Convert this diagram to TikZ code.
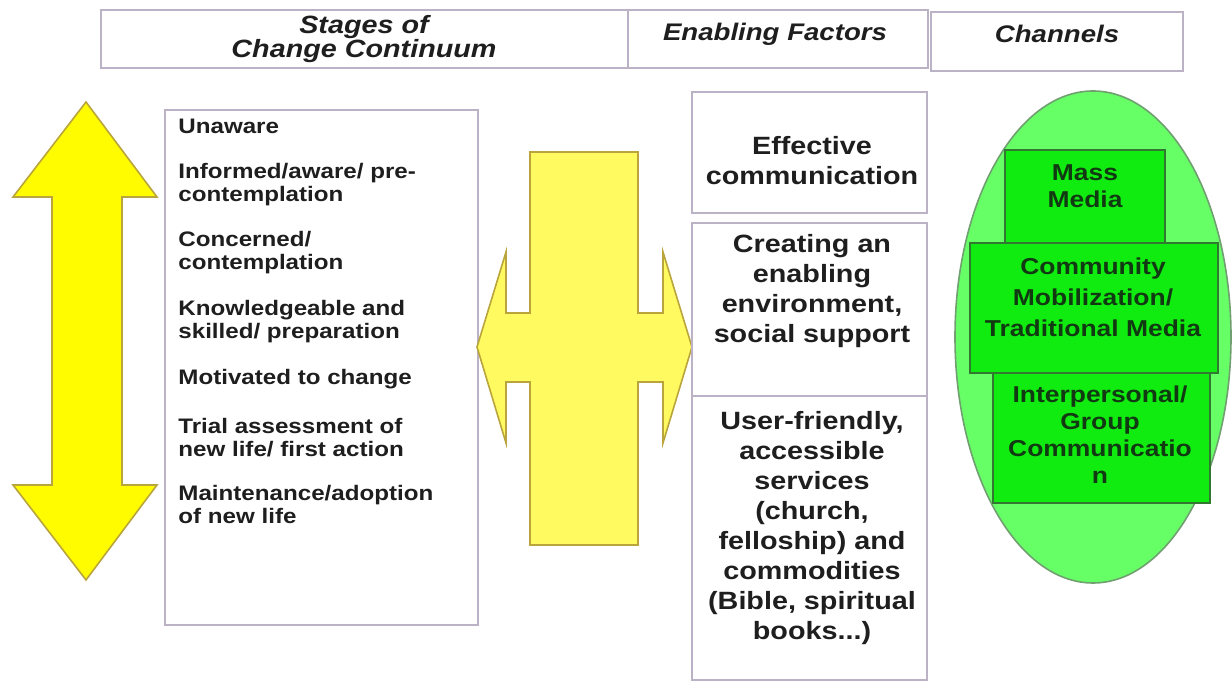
\documentclass[tikz,border=0pt]{standalone}
\usepackage{fontspec}
\setmainfont[FakeStretch=1.15]{Liberation Sans}
\definecolor{framegray}{RGB}{188,178,198}
\definecolor{bigyellow}{RGB}{255,252,0}
\definecolor{paleyellow}{RGB}{255,250,95}
\definecolor{yellowedge}{RGB}{185,165,60}
\definecolor{ovalgreen}{RGB}{102,255,102}
\definecolor{boxgreen}{RGB}{16,236,16}
\definecolor{greenedge}{RGB}{50,120,50}
\definecolor{darkink}{RGB}{30,30,30}
\definecolor{greenink}{RGB}{18,58,18}
\begin{document}
\begin{tikzpicture}[x=0.5pt, y=-0.5pt,
    frame/.style={draw=framegray, line width=1pt},
    headtext/.style={font=\fontsize{12.5}{14}\selectfont\bfseries\itshape, text=darkink, align=center},
    stagetext/.style={font=\fontsize{10.5}{11.5}\selectfont\bfseries, text=darkink, align=left, anchor=west, inner sep=0pt},
    factortext/.style={font=\fontsize{12.5}{15}\selectfont\bfseries, text=darkink, align=center},
    channelbox/.style={draw=greenedge, fill=boxgreen, line width=0.8pt},
    channeltext/.style={font=\fontsize{11.5}{13.5}\selectfont\bfseries, text=greenink, align=center}]
        \useasboundingbox (0,0) rectangle (1232,683);

        \draw[frame] (101,10) rectangle (628,68);
        \draw[frame] (628,10) rectangle (928,68);
        \draw[frame] (931,12) rectangle (1183,71);
        \node[headtext] (h0) at (364,39) {Stages of\\[-2pt]Change Continuum};
        \node[headtext, font=\fontsize{12}{14}\selectfont\bfseries\itshape] (h1) at (775,34) {Enabling Factors};
        \node[headtext, font=\fontsize{12}{14}\selectfont\bfseries\itshape] (h2) at (1057,34) {Channels};

        \draw[fill=bigyellow, draw=yellowedge, line width=0.8pt] (86,102) -- (157,197) -- (122,197) -- (122,485) -- (157,485) -- (86,580) -- (13,485) -- (52,485) -- (52,197) -- (13,197) -- cycle;

        \draw[frame] (165,110) rectangle (478,625);
        \node[stagetext] (s0) at (178,126) {Unaware};
        \node[stagetext] (s1) at (178,185) {Informed/aware/ pre-\\contemplation};
        \node[stagetext] (s2) at (178,253) {Concerned/\\contemplation};
        \node[stagetext] (s3) at (178,322) {Knowledgeable and\\skilled/ preparation};
        \node[stagetext] (s4) at (178,379) {Motivated to change};
        \node[stagetext] (s5) at (178,438) {Trial assessment of\\new life/ first action};
        \node[stagetext] (s6) at (178,504) {Maintenance/adoption\\of new life};

        \draw[fill=paleyellow, draw=yellowedge, line width=0.8pt] (530,152) -- (638,152) -- (638,313) -- (663,313) -- (663,252) -- (692,347) -- (663,443) -- (663,382) -- (638,382) -- (638,545) -- (530,545) -- (530,382) -- (506,382) -- (506,443) -- (477,347) -- (506,252) -- (506,313) -- (530,313) -- cycle;

        \draw[frame] (692,92) rectangle (927,213);
        \draw[frame] (692,223) rectangle (927,396);
        \draw[frame] (692,396) rectangle (927,680);
        \node[factortext] (f0) at (812,161) {Effective\\communication};
        \node[factortext] (f1) at (812,291) {Creating an\\enabling\\environment,\\social support};
        \node[factortext] (f2) at (812,528) {User-friendly,\\accessible\\services\\(church,\\felloship) and\\commodities\\(Bible, spiritual\\books...)};

        \draw[fill=ovalgreen, draw=greenedge!70, line width=0.8pt] (1093,337) ellipse [x radius=138, y radius=246];
        \draw[channelbox] (1005,150) rectangle (1165,243);
        \draw[channelbox] (993,373) rectangle (1210,503);
        \draw[channelbox] (970,243) rectangle (1218,373);
        \node[channeltext] (c0) at (1085,186) {Mass\\Media};
        \node[channeltext, font=\fontsize{11.5}{15.5}\selectfont\bfseries] (c1) at (1093,297) {Community\\Mobilization/\\Traditional Media};
        \node[channeltext] (c2) at (1100,435) {Interpersonal/\\Group\\Communicatio\\n};
    \end{tikzpicture}
\end{document}
